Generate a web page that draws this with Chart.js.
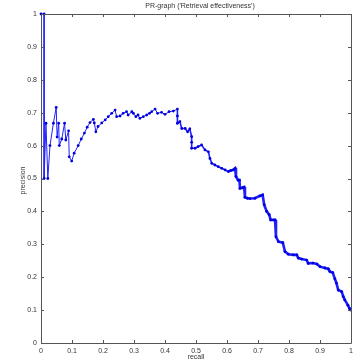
<!DOCTYPE html>
<html>
<head>
<meta charset="utf-8">
<script src="https://cdn.jsdelivr.net/npm/chart.js@4/dist/chart.umd.min.js"></script>
<style>
  html, body { margin: 0; padding: 0; background: #fff; }
  #wrap { position: relative; width: 359px; height: 361px; }
</style>
</head>
<body>
<div id="wrap"><canvas id="prChart"></canvas></div>
<script>
// precision / recall pairs of the retrieval run
const recall = [
  0, 0.01, 0.01, 0.016, 0.022, 0.029, 0.04, 0.049, 0.052, 0.057,
  0.059, 0.067, 0.076, 0.08, 0.089, 0.091, 0.099, 0.107, 0.12, 0.13,
  0.14, 0.149, 0.158, 0.169, 0.172, 0.177, 0.184, 0.196, 0.207, 0.217,
  0.228, 0.239, 0.244, 0.255, 0.265, 0.276, 0.281, 0.293, 0.298, 0.306,
  0.313, 0.319, 0.33, 0.341, 0.35, 0.357, 0.368, 0.376, 0.389, 0.4,
  0.413, 0.427, 0.44, 0.44, 0.44, 0.448, 0.454, 0.465, 0.473, 0.48,
  0.486, 0.486, 0.486, 0.497, 0.507, 0.518, 0.529, 0.54, 0.545, 0.551,
  0.561, 0.572, 0.583, 0.594, 0.604, 0.612, 0.62, 0.626, 0.629, 0.636,
  0.64, 0.642, 0.65, 0.655, 0.658, 0.666, 0.674, 0.69, 0.706, 0.715,
  0.72, 0.728, 0.736, 0.741, 0.75, 0.755, 0.758, 0.766, 0.78, 0.787,
  0.798, 0.814, 0.825, 0.83, 0.841, 0.857, 0.862, 0.877, 0.89, 0.9,
  0.916, 0.927, 0.932, 0.941, 0.948, 0.953, 0.959, 0.97, 0.975, 0.98,
  0.99, 0.995, 0.998
];
const precision = [
  1, 1, 0.5, 0.668, 0.5, 0.6, 0.668, 0.716, 0.626, 0.668,
  0.6, 0.62, 0.668, 0.617, 0.645, 0.566, 0.553, 0.577, 0.6, 0.62,
  0.638, 0.656, 0.67, 0.68, 0.669, 0.642, 0.658, 0.669, 0.678, 0.688,
  0.698, 0.708, 0.688, 0.69, 0.698, 0.703, 0.693, 0.703, 0.698, 0.688,
  0.693, 0.683, 0.688, 0.693, 0.698, 0.703, 0.711, 0.698, 0.701, 0.695,
  0.703, 0.705, 0.711, 0.69, 0.668, 0.673, 0.652, 0.652, 0.642, 0.651,
  0.627, 0.61, 0.592, 0.592, 0.597, 0.602, 0.587, 0.581, 0.561, 0.546,
  0.541, 0.536, 0.531, 0.526, 0.521, 0.524, 0.526, 0.531, 0.506, 0.495,
  0.495, 0.47, 0.472, 0.474, 0.443, 0.44, 0.439, 0.44, 0.447, 0.45,
  0.42, 0.4, 0.39, 0.374, 0.374, 0.374, 0.323, 0.308, 0.305, 0.278,
  0.27, 0.268, 0.268, 0.258, 0.255, 0.252, 0.242, 0.243, 0.24, 0.232,
  0.228, 0.225, 0.217, 0.214, 0.195, 0.182, 0.161, 0.156, 0.141, 0.131,
  0.115, 0.105, 0.1
];

const tickValues = [0, 0.1, 0.2, 0.3, 0.4, 0.5, 0.6, 0.7, 0.8, 0.9, 1];
const tickLabels = ['0', '0.1', '0.2', '0.3', '0.4', '0.5', '0.6', '0.7', '0.8', '0.9', '1'];

const titleText = "PR-graph ('Retrieval effectiveness')";
const xTitle = 'recall';
const yTitle = 'precision';

const axisColor = '#555555';
const textColor = '#333333';
const fontFamily = "'Liberation Sans', Arial, sans-serif";

const points = recall.map((r, i) => ({ x: r, y: precision[i] }));

function useFixedTicks(scale) {
  scale.ticks = tickValues.map(v => ({ value: v }));
}

// markers crowd together towards high recall, so the trace gets heavier there
function segWidth(c) {
  const x = c.p0.parsed.x;
  if (x >= 0.6) return 2.6;
  if (x >= 0.44) return 1.6;
  return 1;
}

// box around the plot with inward ticks, plus titles
const boxPlugin = {
  id: 'boxPlugin',
  afterDraw(chart) {
    const { ctx, chartArea: a, scales } = chart;
    const len = 3;
    ctx.save();
    ctx.strokeStyle = axisColor;
    ctx.lineWidth = 1;
    ctx.beginPath();
    ctx.rect(a.left + 0.5, a.top + 0.5, a.right - a.left, a.bottom - a.top);
    ctx.stroke();

    ctx.beginPath();
    tickValues.forEach(v => {
      const px = Math.round(scales.x.getPixelForValue(v)) + 0.5;
      ctx.moveTo(px, a.bottom); ctx.lineTo(px, a.bottom - len);
      ctx.moveTo(px, a.top); ctx.lineTo(px, a.top + len);
      const py = Math.round(scales.y.getPixelForValue(v)) + 0.5;
      ctx.moveTo(a.left, py); ctx.lineTo(a.left + len, py);
      ctx.moveTo(a.right, py); ctx.lineTo(a.right - len, py);
    });
    ctx.stroke();

    ctx.fillStyle = textColor;
    ctx.font = '7px ' + fontFamily;
    ctx.textAlign = 'center';
    ctx.textBaseline = 'middle';
    const cx = (a.left + a.right) / 2;
    ctx.fillText(titleText, cx + 4, 6);
    ctx.fillText(xTitle, cx, 357);
    ctx.translate(23, (a.top + a.bottom) / 2 + 2);
    ctx.rotate(-Math.PI / 2);
    ctx.fillText(yTitle, 0, 0);
    ctx.restore();
  }
};

new Chart(document.getElementById('prChart'), {
  type: 'line',
  data: {
    datasets: [{
      data: points,
      borderColor: '#2020ff',
      backgroundColor: '#0000dd',
      pointBackgroundColor: '#0000dd',
      pointBorderWidth: 0,
      pointRadius: 1.4,
      borderWidth: 1,
      tension: 0,
      clip: false,
      segment: { borderWidth: segWidth }
    }]
  },
  options: {
    responsive: true,
    maintainAspectRatio: false,
    animation: false,
    layout: { padding: { top: 14, right: 8, left: 0, bottom: 0 } },
    plugins: {
      legend: { display: false },
      tooltip: { enabled: false }
    },
    scales: {
      x: {
        type: 'linear',
        min: 0,
        max: 1,
        afterBuildTicks: useFixedTicks,
        afterFit: s => { s.height = 18; },
        grid: { display: false, drawTicks: false },
        border: { display: false },
        ticks: {
          padding: 4,
          color: textColor,
          font: { size: 7, family: fontFamily },
          maxRotation: 0,
          callback: v => tickLabels[tickValues.indexOf(v)]
        }
      },
      y: {
        type: 'linear',
        min: 0,
        max: 1,
        afterBuildTicks: useFixedTicks,
        afterFit: s => { s.width = 41; },
        grid: { display: false, drawTicks: false },
        border: { display: false },
        ticks: {
          padding: 4,
          color: textColor,
          font: { size: 7, family: fontFamily },
          callback: v => tickLabels[tickValues.indexOf(v)]
        }
      }
    }
  },
  plugins: [boxPlugin]
});
</script>
</body>
</html>
